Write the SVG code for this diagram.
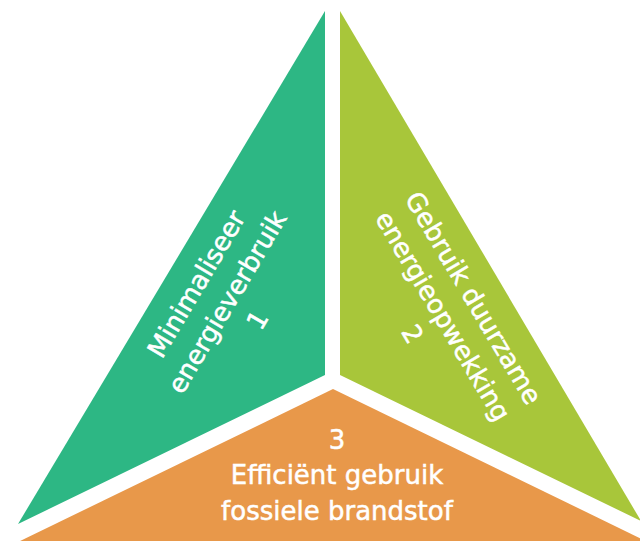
<svg xmlns="http://www.w3.org/2000/svg" width="640" height="541" viewBox="0 0 640 541">
<style>
.lbl{font-family:"DejaVu Sans","Liberation Sans",sans-serif;font-size:26px;fill:#ffffff;stroke:#ffffff;stroke-width:0.5;text-anchor:middle}
</style>
<rect width="640" height="541" fill="#ffffff"/>
<g id="node1">
<polygon points="325,11 325,375 18,524" fill="#2DB784"/>
<g transform="translate(227,302) rotate(-59.4)">
<text class="lbl" x="0" y="-26.5">Minimaliseer</text>
<text class="lbl" x="0" y="9">energieverbruik</text>
<text class="lbl" x="0" y="44.5">1</text>
</g>
</g>
<g id="node2">
<polygon points="340,11 340,375 641,521" fill="#A8C63A"/>
<g transform="translate(443,316) rotate(59.4)">
<text class="lbl" x="0" y="-26.5">Gebruik duurzame</text>
<text class="lbl" x="0" y="9">energieopwekking</text>
<text class="lbl" x="0" y="44.5">2</text>
</g>
</g>
<g id="node3">
<polygon points="333,389 685,560 -19,560" fill="#E8984A"/>
<text class="lbl" x="337" y="449">3</text>
<text class="lbl" x="337" y="484">Efficiënt gebruik</text>
<text class="lbl" x="337" y="520">fossiele brandstof</text>
</g>
<g id="connectors"></g>
</svg>
